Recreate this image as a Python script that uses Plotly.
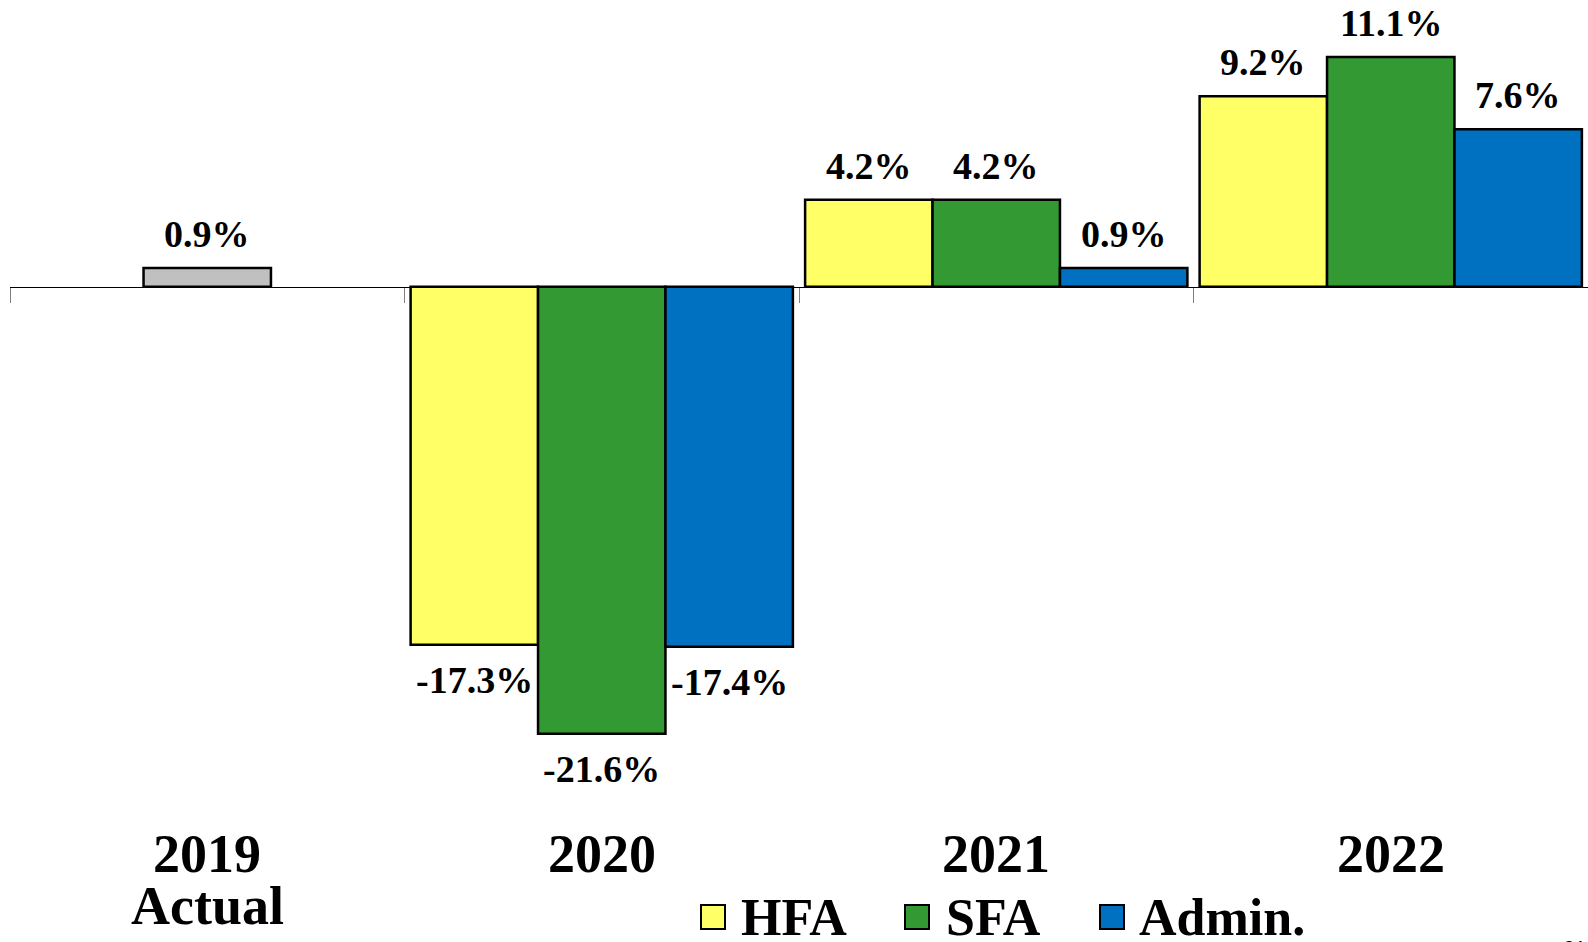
import plotly.graph_objects as go

# ---------------- data ----------------
categories = ["2019", "2020", "2021", "2022"]
sublabels = ["Actual", "", "", ""]
actual_x = ["2019"]
actual_vals = [0.9]
forecast_x = ["2020", "2021", "2022"]
hfa = [-17.3, 4.2, 9.2]
sfa = [-21.6, 4.2, 11.1]
admin = [-17.4, 0.9, 7.6]
series_names = ["HFA", "SFA", "Admin."]
series_vals = [hfa, sfa, admin]
colors = ["#FFFF66", "#339933", "#0070C0"]
actual_color = "#C0C0C0"
page_number = "24"

# ---------------- layout constants ----------------
W, H = 1588, 942
ML = 10
Y_MIN, Y_MAX = -31.66, 13.85
BAR_W = 0.323
FONT = "Liberation Serif"
LABEL_SIZE = 38
CAT_SIZE = 54
LEG_SIZE = 52
POS_SHIFT = 11
NEG_SHIFT = -12


def px_x(px):
    return (px - ML) / (W - ML)


def px_y(py):
    return 1 - py / H


fig = go.Figure()
annotations = []


def value_label(xpos, val):
    return dict(
        x=xpos, xref="x", y=val, yref="y", text=f"<b>{val:.1f}%</b>",
        showarrow=False, xanchor="center",
        yanchor="bottom" if val >= 0 else "top",
        yshift=POS_SHIFT if val >= 0 else NEG_SHIFT,
        font=dict(family=FONT, size=LABEL_SIZE, color="black"),
    )


# 2019 actual bar (centered)
fig.add_trace(go.Bar(
    x=actual_x, y=actual_vals, width=BAR_W, offset=-BAR_W / 2,
    marker=dict(color=actual_color, line=dict(color="black", width=2.5)),
    showlegend=False, hoverinfo="skip",
))
for cx, v in zip(actual_x, actual_vals):
    annotations.append(value_label(categories.index(cx), v))

offsets = [-1.5 * BAR_W, -0.5 * BAR_W, 0.5 * BAR_W]
for name, vals, col, off in zip(series_names, series_vals, colors, offsets):
    fig.add_trace(go.Bar(
        x=forecast_x, y=vals, width=BAR_W, offset=off, name=name,
        marker=dict(color=col, line=dict(color="black", width=2.5)),
        showlegend=False, hoverinfo="skip",
    ))
    for cx, v in zip(forecast_x, vals):
        annotations.append(value_label(categories.index(cx) + off + BAR_W / 2, v))

zero_pos = (0 - Y_MIN) / (Y_MAX - Y_MIN)

# category labels (category axes take serial numbers for annotations)
for i, (cat, sub) in enumerate(zip(categories, sublabels)):
    annotations.append(dict(
        x=i, xref="x", y=px_y(854), yref="paper", text=f"<b>{cat}</b>",
        showarrow=False, xanchor="center", yanchor="middle",
        font=dict(family=FONT, size=CAT_SIZE, color="black"),
    ))
    if sub:
        annotations.append(dict(
            x=i, xref="x", y=px_y(906), yref="paper", text=f"<b>{sub}</b>",
            showarrow=False, xanchor="center", yanchor="middle",
            font=dict(family=FONT, size=CAT_SIZE, color="black"),
        ))

# manual legend
swatch_cx = [713, 917.5, 1112]
text_lx = [739, 944, 1137]
leg_y = 917
for name, col, sx, tx in zip(series_names, colors, swatch_cx, text_lx):
    annotations.append(dict(
        x=px_x(sx), xref="paper", y=px_y(leg_y), yref="paper", text=" ",
        showarrow=False, xanchor="center", yanchor="middle",
        width=22, height=22, bgcolor=col, bordercolor="black",
        borderwidth=2, borderpad=0, font=dict(size=4),
    ))
    annotations.append(dict(
        x=px_x(tx), xref="paper", y=px_y(leg_y), yref="paper",
        text=f"<b>{name}</b>", showarrow=False, xanchor="left",
        yanchor="middle",
        font=dict(family=FONT, size=LEG_SIZE, color="black"),
    ))

# page number (cut off at bottom right)
annotations.append(dict(
    x=px_x(1574), xref="paper", y=px_y(936), yref="paper",
    text=f"<b>{page_number}</b>", showarrow=False, xanchor="center",
    yanchor="top", font=dict(family=FONT, size=18, color="black"),
))

fig.update_layout(
    width=W, height=H,
    margin=dict(l=ML, r=0, t=0, b=0, autoexpand=False),
    paper_bgcolor="white", plot_bgcolor="white",
    barmode="overlay",
    showlegend=False,
    xaxis=dict(
        type="category", categoryorder="array", categoryarray=categories,
        range=[-0.5, 3.5], anchor="free", position=zero_pos,
        showline=True, linecolor="black", linewidth=1,
        ticks="outside", tickson="boundaries", ticklen=15,
        tickcolor="#808080", tickwidth=1,
        showticklabels=False, showgrid=False, zeroline=False,
    ),
    yaxis=dict(
        range=[Y_MIN, Y_MAX], showgrid=False, zeroline=False,
        showticklabels=False, showline=False, ticks="",
    ),
    annotations=annotations,
)

fig.write_html(
    "out.html",
    config={"displayModeBar": False},
    post_script="document.body.style.margin='0';document.body.style.overflow='hidden';",
)
